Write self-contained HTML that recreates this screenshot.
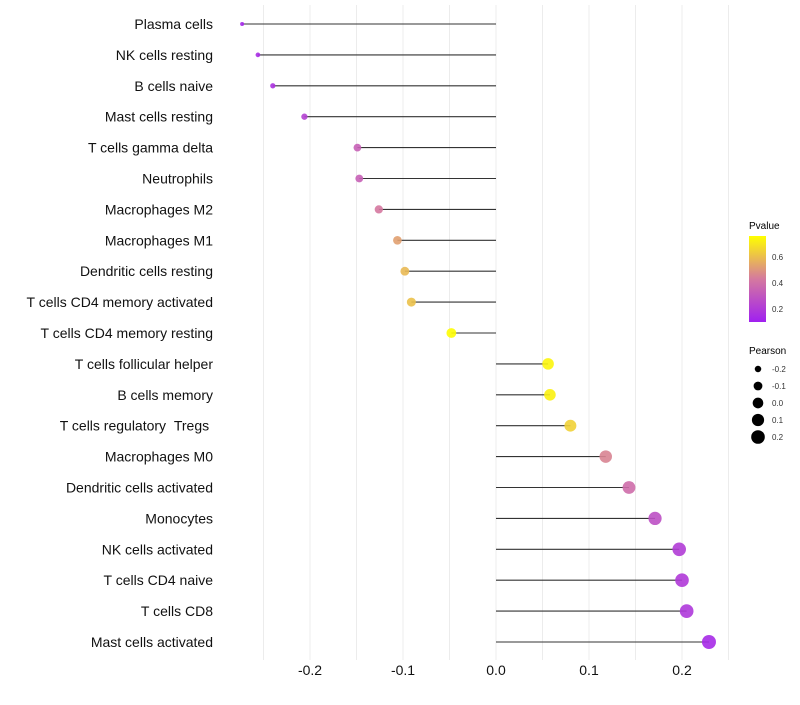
<!DOCTYPE html>
<html><head><meta charset="utf-8"><style>
body{margin:0;background:#fff;font-family:"Liberation Sans",sans-serif;}
</style></head><body>
<svg id="chart" width="800" height="700" xmlns="http://www.w3.org/2000/svg" font-family="Liberation Sans, sans-serif">
<defs><linearGradient id="pgrad" x1="0" y1="1" x2="0" y2="0">
<stop offset="0" stop-color="#A020F0"/><stop offset="0.5" stop-color="#D5799F"/><stop offset="1" stop-color="#FFFF00"/>
</linearGradient></defs>
<g id="grid"></g><g id="marks"></g><g id="ylabels"></g><g id="xlabels"></g>
<g>
<text x="749" y="229" font-size="10">Pvalue</text>
<rect x="749" y="236" width="17" height="86" fill="url(#pgrad)"/>
<text x="772" y="260" font-size="8" fill="#333">0.6</text>
<text x="772" y="286" font-size="8" fill="#333">0.4</text>
<text x="772" y="312" font-size="8" fill="#333">0.2</text>
</g>
<g id="sizeLegend">
<text x="749" y="354" font-size="10">Pearson</text>
</g>
</svg>
<script>
const categories=["Plasma cells","NK cells resting","B cells naive","Mast cells resting","T cells gamma delta","Neutrophils","Macrophages M2","Macrophages M1","Dendritic cells resting","T cells CD4 memory activated","T cells CD4 memory resting","T cells follicular helper","B cells memory","T cells regulatory\u00a0\u00a0Tregs\u00a0","Macrophages M0","Dendritic cells activated","Monocytes","NK cells activated","T cells CD4 naive","T cells CD8","Mast cells activated"];
const pearson=[-0.273,-0.256,-0.240,-0.206,-0.149,-0.147,-0.126,-0.106,-0.098,-0.091,-0.048,0.056,0.058,0.080,0.118,0.143,0.171,0.197,0.200,0.205,0.229];
const pvalue=[0.12,0.14,0.16,0.22,0.33,0.33,0.42,0.52,0.58,0.60,0.75,0.73,0.72,0.64,0.45,0.38,0.27,0.20,0.19,0.18,0.13];
const xTicks=[-0.2,-0.1,0.0,0.1,0.2];
const xTickLabels=["-0.2","-0.1","0.0","0.1","0.2"];
const sizeLegendVals=[-0.2,-0.1,0.0,0.1,0.2];
const sizeLegendLabels=["-0.2","-0.1","0.0","0.1","0.2"];

const NS="http://www.w3.org/2000/svg";
const x=v=>496+v*930;
const y=i=>24+i*30.9;
const r=v=>Math.sqrt(Math.max(1,4+(v+0.273)*89.6));
function lerp(a,b,t){return a+(b-a)*t;}
function col(p){let t=(p-0.092)/(0.754-0.092);t=Math.max(0,Math.min(1,t));
 const s=[[160,32,240],[213,121,159],[255,255,0]];let a,b,u;
 if(t<0.5){a=s[0];b=s[1];u=t/0.5;}else{a=s[1];b=s[2];u=(t-0.5)/0.5;}
 return `rgb(${Math.round(lerp(a[0],b[0],u))},${Math.round(lerp(a[1],b[1],u))},${Math.round(lerp(a[2],b[2],u))})`;}
function mk(tag,attrs,parent){const e=document.createElementNS(NS,tag);for(const k in attrs)e.setAttribute(k,attrs[k]);parent.appendChild(e);return e;}
const grid=document.getElementById('grid');
for(let v=-0.25;v<=0.251;v+=0.05){
 const g=mk('line',{x1:x(v),x2:x(v),y1:5,y2:660,stroke:'#ececec','stroke-width':1},grid);
 
 
}
const marks=document.getElementById('marks'),yl=document.getElementById('ylabels'),xl=document.getElementById('xlabels');
categories.forEach((c,i)=>{
 const s=mk('line',{x1:x(0),x2:x(pearson[i]),y1:y(i),y2:y(i),stroke:'#333','stroke-width':1.1},marks);
 
 
 const p=mk('circle',{cx:x(pearson[i]),cy:y(i),r:r(pearson[i]),fill:col(pvalue[i]),'fill-opacity':0.9},marks);
 
 
 const t=mk('text',{x:213,y:y(i)+5,'text-anchor':'end','font-size':14,fill:'#111'},yl);t.textContent=c;
 
 
});
xTicks.forEach((v,i)=>{
 const t=mk('text',{x:x(v),y:675,'text-anchor':'middle','font-size':14,fill:'#111'},xl);t.textContent=xTickLabels[i];
 
 
});
const sl=document.getElementById('sizeLegend');
sizeLegendVals.forEach((v,i)=>{
 const cy=369+i*17;
 const c=mk('circle',{cx:758,cy:cy,r:r(v),fill:'#000'},sl);
 
 
 const t=mk('text',{x:772,y:cy+3,'font-size':8,fill:'#333'},sl);t.textContent=sizeLegendLabels[i];
 
 
});
</script>
</body></html>
